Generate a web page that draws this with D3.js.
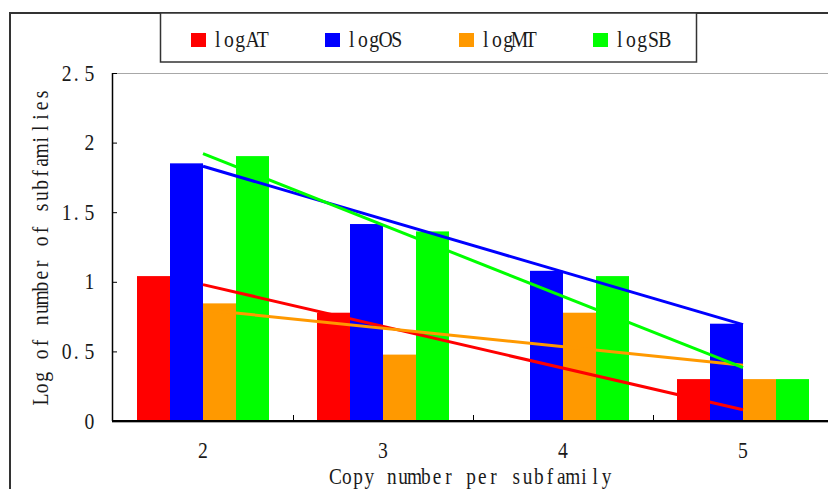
<!DOCTYPE html>
<html>
<head>
<meta charset="utf-8">
<script src="https://cdn.jsdelivr.net/npm/d3@7"></script>
<style>
  html, body { margin: 0; padding: 0; background: #fff; }
  svg { display: block; }
</style>
</head>
<body>
<svg id="chart" width="828" height="489"></svg>
<script>
// Copy number per subfamily (x) vs log10 of the number of subfamilies (y)
const categories = ["2", "3", "4", "5"];
const seriesNames = ["logAT", "logOS", "logMT", "logSB"];
const logAT = [1.041, 0.778, 0, 0.301];
const logOS = [1.851, 1.415, 1.079, 0.699];
const logMT = [0.845, 0.477, 0.778, 0.301];
const logSB = [1.903, 1.362, 1.041, 0.301];
const yTicks = [0, 0.5, 1, 1.5, 2, 2.5];
const yTickLabels = ["0", "0.5", "1", "1.5", "2", "2.5"];
const colors = ["#ff0000", "#0000ff", "#ff9900", "#00ff00"];

const seriesValues = [logAT, logOS, logMT, logSB];
const FONT = "'Liberation Serif', 'Times New Roman', serif";
const TEXT = "#1a1a1a";

const svg = d3.select("#chart");

// Fixed-pitch text: every character sits centred in a cell of equal width
function monoText(parent, str, opts) {
  const { x, y, adv = 11.3, size = 24, sx = 0.82, anchor = "start", rotate = 0 } = opts;
  const g = parent.append("g")
    .attr("transform", `translate(${x},${y}) rotate(${rotate}) scale(${sx},1)`);
  const t = g.append("text")
    .attr("font-family", FONT)
    .attr("font-size", size)
    .attr("fill", TEXT)
    .text(str);
  const n = str.length;
  const la = adv / sx;
  const total = n * la;
  const start = anchor === "middle" ? -total / 2 : anchor === "end" ? -total : 0;
  const xs = [];
  for (let i = 0; i < n; i++) {
    const w = t.node().getSubStringLength(i, 1);
    const off = str[i] === "." ? la * 0.12 : (la - w) / 2;
    xs.push((start + i * la + off).toFixed(2));
  }
  t.attr("x", xs.join(" "));
  return t;
}

// Outer chart frame (runs off the right and bottom edges)
svg.append("rect")
  .attr("x", 10).attr("y", 13)
  .attr("width", 900).attr("height", 600)
  .attr("fill", "none").attr("stroke", "#333").attr("stroke-width", 2);

// Plot area
const plot = { left: 112, top: 73, right: 833, bottom: 421 };

const x = d3.scaleBand()
  .domain(categories)
  .range([plot.left + 1, plot.right]);

const inner = d3.scaleBand()
  .domain(seriesNames)
  .range([0, 132]);

const groupOffset = (x.bandwidth() - 132) / 2;

const y = d3.scaleLinear()
  .domain([0, 2.5])
  .range([plot.bottom, plot.top]);

// Plot area border
svg.append("rect")
  .attr("x", plot.left + 0.5).attr("y", plot.top + 0.5)
  .attr("width", plot.right - plot.left).attr("height", plot.bottom - plot.top + 1)
  .attr("fill", "none").attr("stroke", "#a8a8a8").attr("stroke-width", 1);

// Bars
const barData = [];
seriesNames.forEach((s, si) => {
  categories.forEach((c, ci) => {
    barData.push({ s, si, c, v: seriesValues[si][ci] });
  });
});

svg.append("g")
  .selectAll("rect")
  .data(barData)
  .join("rect")
  .attr("x", d => x(d.c) + groupOffset + inner(d.s))
  .attr("y", d => y(d.v))
  .attr("width", inner.bandwidth())
  .attr("height", d => y(0) - y(d.v))
  .attr("fill", d => colors[d.si]);

// Linear trend line for each series (least squares over category value)
const trendGen = d3.line()
  .x(d => x(d.c) + x.bandwidth() / 2)
  .y(d => y(d.v));

seriesValues.forEach((vals, si) => {
  const xs = categories.map(c => +c);
  const mx = d3.mean(xs), my = d3.mean(vals);
  const slope = d3.sum(xs, (xi, i) => (xi - mx) * (vals[i] - my)) / d3.sum(xs, xi => (xi - mx) ** 2);
  const first = categories[0], last = categories[categories.length - 1];
  const pts = [first, last].map(c => ({ c, v: my + slope * (+c - mx) }));
  svg.append("path")
    .attr("d", trendGen(pts))
    .attr("fill", "none")
    .attr("stroke", colors[si])
    .attr("stroke-width", 3);
});

// Y axis: line, inward ticks, labels
const yAxis = d3.axisRight(y).tickValues(yTicks).tickSize(5).tickFormat("");
svg.append("g")
  .attr("transform", `translate(${plot.left},0)`)
  .call(yAxis)
  .call(g => g.select(".domain").attr("stroke", "#000").attr("stroke-width", 1.5)
    .attr("d", `M0.5,${plot.top}V${plot.bottom}`))
  .call(g => g.selectAll(".tick line").attr("stroke", "#000"));

yTicks.forEach((t, i) => {
  monoText(svg, yTickLabels[i], { x: 95, y: y(t) + 7.5, anchor: "end" });
});

// X axis: line, inward ticks at category boundaries, labels
svg.append("line")
  .attr("x1", plot.left).attr("x2", plot.right)
  .attr("y1", plot.bottom).attr("y2", plot.bottom)
  .attr("stroke", "#000").attr("stroke-width", 1.8);

svg.append("g")
  .selectAll("line")
  .data(categories.slice(1))
  .join("line")
  .attr("x1", d => Math.round(x(d)) + 0.5)
  .attr("x2", d => Math.round(x(d)) + 0.5)
  .attr("y1", plot.bottom)
  .attr("y2", plot.bottom - 6)
  .attr("stroke", "#000").attr("stroke-width", 1);

categories.forEach(c => {
  monoText(svg, c, { x: x(c) + x.bandwidth() / 2, y: 458, anchor: "middle" });
});

// Axis titles
monoText(svg, "Copy number per subfamily", { x: 471, y: 484, anchor: "middle", size: 23, sx: 0.84 });
monoText(svg, "Log of number of subfamilies", { x: 48, y: 247, anchor: "middle", rotate: -90 });

// Legend
svg.append("rect")
  .attr("x", 160.5).attr("y", 13)
  .attr("width", 536).attr("height", 49)
  .attr("fill", "#fff").attr("stroke", "#333").attr("stroke-width", 1.5);

const legendX = d3.scalePoint().domain(seriesNames).range([191, 593]);
seriesNames.forEach((s, si) => {
  svg.append("rect")
    .attr("x", legendX(s)).attr("y", 33)
    .attr("width", 15).attr("height", 14)
    .attr("fill", colors[si]);
  monoText(svg, s, { x: legendX(s) + 21, y: 47 });
});
</script>
</body>
</html>
